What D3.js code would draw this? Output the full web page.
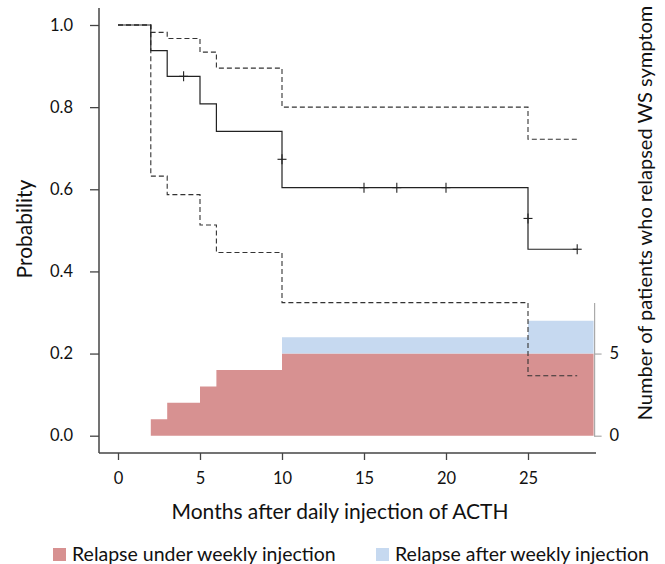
<!DOCTYPE html>
<html lang="en">
<head>
<meta charset="utf-8">
<title>Relapse-free probability after ACTH</title>
<script src="https://cdn.jsdelivr.net/npm/d3@7"></script>
<style>
  body { margin: 0; background: #fff; }
  text { font-family: Lato, "Open Sans", sans-serif; fill: #111; }
</style>
</head>
<body>
<script>
// Kaplan-Meier estimate (step after each time)
var kmTimes = [0, 2, 3, 5, 6, 10, 25, 28];
var kmSurv  = [1.0, 0.9375, 0.875, 0.808, 0.741, 0.604, 0.454, 0.454];
var ciUpper = [1.0, 0.982, 0.967, 0.934, 0.895, 0.800, 0.722, 0.722];
var ciLower = [1.0, 0.632, 0.587, 0.513, 0.446, 0.324, 0.146, 0.146];

// censored observations
var censorTimes = [4, 10, 15, 17, 20, 25, 28];
var censorSurv  = [0.875, 0.673, 0.604, 0.604, 0.604, 0.529, 0.454];

// cumulative number of relapsed patients (bars), last edge = end of plot
var barEdges     = [2, 3, 5, 6, 10, 25, 29];
var underWeekly  = [1, 2, 3, 4, 5, 5];
var afterWeekly  = [0, 0, 0, 0, 1, 2];

var xTicks = [0, 5, 10, 15, 20, 25];
var yTicks = [0, 0.2, 0.4, 0.6, 0.8, 1.0];
var rTicks = [0, 5];

var w = 665, h = 564;

var svg = d3.select("body").append("svg")
    .attr("width", w)
    .attr("height", h);

//Scales
var x = d3.scaleLinear().domain([0, 25]).range([118, 528]);
var y = d3.scaleLinear().domain([0, 1]).range([435.7, 25]);
var yR = d3.scaleLinear().domain([0, 5]).range([y(0), y(0.2)]);

var axisLeftX = 99, axisBottomY = 453;
var rightX = x(29) + 1;

//Bars as stepped areas
var last = underWeekly.length - 1;
var barData = barEdges.map(function(t, i) {
  var k = Math.min(i, last);
  return { t: t, under: underWeekly[k], after: afterWeekly[k] };
});

var stepArea = d3.area()
  .x(function(d) { return x(d.t); })
  .curve(d3.curveStepAfter);

svg.append("path")
  .attr("d", stepArea
    .y0(function() { return yR(0); })
    .y1(function(d) { return yR(d.under); })(barData))
  .attr("fill", "#d79191");

svg.append("path")
  .attr("d", stepArea
    .y0(function(d) { return yR(d.under); })
    .y1(function(d) { return yR(d.under + d.after); })(barData))
  .attr("fill", "#c6d9f0");

//Step lines
var step = d3.line()
  .x(function(d) { return x(d[0]); })
  .y(function(d) { return y(d[1]); })
  .curve(d3.curveStepAfter);

function zipTimes(vals) {
  return kmTimes.map(function(t, i) { return [t, vals[i]]; });
}

svg.append("path")
  .attr("d", step(zipTimes(ciUpper)))
  .attr("fill", "none").attr("stroke", "#333")
  .attr("stroke-width", 1.1).attr("stroke-dasharray", "5,3");

svg.append("path")
  .attr("d", step(zipTimes(ciLower)))
  .attr("fill", "none").attr("stroke", "#333")
  .attr("stroke-width", 1.1).attr("stroke-dasharray", "5,3");

svg.append("path")
  .attr("d", step(zipTimes(kmSurv)))
  .attr("fill", "none").attr("stroke", "#222")
  .attr("stroke-width", 1.2);

//Censor marks
var cens = svg.append("g").attr("stroke", "#222").attr("stroke-width", 1.1);
censorTimes.forEach(function(t, i) {
  var cx = x(t), cy = y(censorSurv[i]);
  cens.append("line").attr("x1", cx).attr("x2", cx).attr("y1", cy - 5).attr("y2", cy + 5);
  cens.append("line").attr("x1", cx - 4.5).attr("x2", cx + 4.5).attr("y1", cy).attr("y2", cy);
});

//Left axis
var yAxis = d3.axisLeft(y).tickValues(yTicks).tickSize(9).tickPadding(17)
  .tickFormat(d3.format(".1f"));
var gy = svg.append("g").attr("transform", "translate(" + axisLeftX + ",0)").call(yAxis);
gy.select(".domain").remove();
gy.selectAll(".tick line").attr("stroke", "#444").attr("stroke-width", 1.3);
gy.selectAll(".tick text").attr("font-size", "16.5px").attr("font-family", "Lato, sans-serif").attr("fill", "#111");
svg.append("line")
  .attr("x1", axisLeftX).attr("x2", axisLeftX).attr("y1", 8).attr("y2", axisBottomY)
  .attr("stroke", "#444").attr("stroke-width", 1.5);

//Bottom axis
var xAxis = d3.axisBottom(x).tickValues(xTicks).tickSize(7).tickPadding(12);
var gx = svg.append("g").attr("transform", "translate(0," + axisBottomY + ")").call(xAxis);
gx.select(".domain").remove();
gx.selectAll(".tick line").attr("stroke", "#444").attr("stroke-width", 1.3);
gx.selectAll(".tick text").attr("font-size", "16.5px").attr("font-family", "Lato, sans-serif").attr("fill", "#111");
svg.append("line")
  .attr("x1", axisLeftX).attr("x2", 596).attr("y1", axisBottomY).attr("y2", axisBottomY)
  .attr("stroke", "#444").attr("stroke-width", 1.5);

//Right axis
var rAxis = d3.axisRight(yR).tickValues(rTicks).tickSize(7).tickPadding(8)
  .tickFormat(d3.format("d"));
var gr = svg.append("g").attr("transform", "translate(" + rightX + ",0)").call(rAxis);
gr.select(".domain").remove();
gr.selectAll(".tick line").attr("stroke", "#aaa").attr("stroke-width", 1.2);
gr.selectAll(".tick text").attr("font-size", "16.5px").attr("font-family", "Lato, sans-serif").attr("fill", "#111");
svg.append("line")
  .attr("x1", rightX).attr("x2", rightX).attr("y1", 303).attr("y2", y(0) + 1)
  .attr("stroke", "#aaa").attr("stroke-width", 1.2);

//Axis titles
svg.append("text")
  .attr("transform", "translate(32,229) rotate(-90)")
  .attr("text-anchor", "middle")
  .attr("font-size", "21px")
  .text("Probability");

svg.append("text")
  .attr("transform", "translate(652,213) rotate(-90)")
  .attr("text-anchor", "middle")
  .attr("font-size", "20px")
  .text("Number of patients who relapsed WS symptom");

svg.append("text")
  .attr("x", 340).attr("y", 519)
  .attr("text-anchor", "middle")
  .attr("font-size", "21px")
  .text("Months after daily injection of ACTH");

//Legend
var legend = [
  { label: "Relapse under weekly injection", color: "#d79191", x: 53 },
  { label: "Relapse after weekly injection", color: "#c6d9f0", x: 376 }
];
legend.forEach(function(d) {
  svg.append("rect").attr("x", d.x).attr("y", 548).attr("width", 13).attr("height", 13).attr("fill", d.color);
  svg.append("text").attr("x", d.x + 19).attr("y", 561).attr("font-size", "19.5px").text(d.label);
});
</script>
</body>
</html>
